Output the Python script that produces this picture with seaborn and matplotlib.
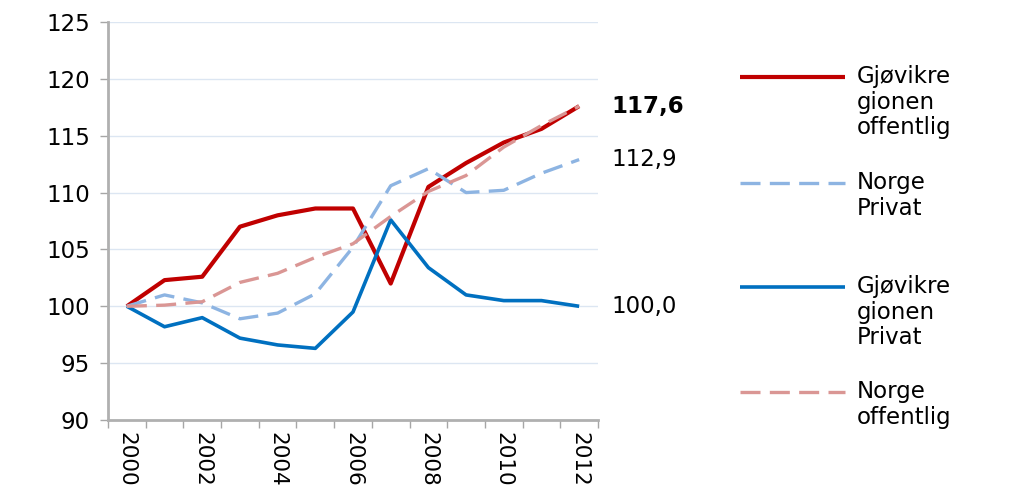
import matplotlib.pyplot as plt
from matplotlib.lines import Line2D
import numpy as np
import pandas as pd
import seaborn as sns

# Index values (2000 = 100)
years = list(range(2000, 2013))
gjovik_offentlig = [100.0, 102.3, 102.6, 107.0, 108.0, 108.6, 108.6, 102.0, 110.5, 112.6, 114.4, 115.6, 117.6]
norge_privat = [100.0, 101.0, 100.3, 98.9, 99.4, 101.1, 105.2, 110.6, 112.1, 110.0, 110.2, 111.7, 112.9]
gjovik_privat = [100.0, 98.2, 99.0, 97.2, 96.6, 96.3, 99.5, 107.6, 103.4, 101.0, 100.5, 100.5, 100.0]
norge_offentlig = [100.0, 100.1, 100.4, 102.1, 102.9, 104.3, 105.5, 107.9, 110.1, 111.5, 114.0, 115.9, 117.6]

end_labels = ['117,6', '112,9', '100,0']
end_values = [117.6, 112.9, 100.0]
end_weights = ['bold', 'normal', 'normal']

series = [
    ('Gjøvikre\ngionen\noffentlig', gjovik_offentlig, '#C00000', 3.0, None),
    ('Norge\nPrivat', norge_privat, '#8DB4E2', 2.4, (6, 2.8)),
    ('Gjøvikre\ngionen\nPrivat', gjovik_privat, '#0070C0', 2.6, None),
    ('Norge\noffentlig', norge_offentlig, '#DA9694', 2.4, (6, 2.8)),
]

sns.set_theme(style='white')
plt.rcParams['font.family'] = ['DejaVu Sans']
plt.rcParams['text.color'] = 'black'
plt.rcParams['xtick.color'] = 'black'
plt.rcParams['ytick.color'] = 'black'

fig = plt.figure(figsize=(10.12, 4.9), dpi=100)
ax = fig.add_axes([108 / 1012, 1 - 420 / 490, 490 / 1012, 398 / 490])

x = np.arange(len(years))
for name, vals, color, lw, dash in series:
    df = pd.DataFrame({'x': x, 'value': vals})
    sns.lineplot(data=df, x='x', y='value', ax=ax, color=color, linewidth=lw)
    if dash is not None:
        ax.lines[-1].set_dashes(dash)
    ax.lines[-1].set_solid_capstyle('butt')

# axes formatting
ax.set_xlim(-0.5, len(years) - 0.5)
ax.set_ylim(90, 125)
ax.set_yticks(range(90, 126, 5))
ax.set_xticks(x[::2])
ax.set_xticklabels([str(y) for y in years[::2]], rotation=-90, fontsize=15.5)
ax.set_xticks(np.arange(-0.5, len(years), 1), minor=True)
ax.tick_params(axis='x', which='major', length=0, pad=9)
ax.tick_params(axis='x', which='minor', length=6, width=1, color='#a6a6a6', bottom=True)
ax.tick_params(axis='y', length=6, width=1, color='#a6a6a6', labelcolor='black',
               labelsize=16.5, pad=7, left=True)
ax.set_xlabel('')
ax.set_ylabel('')
ax.grid(axis='y', color='#dce6f2', linewidth=1)
ax.set_axisbelow(True)
for side in ['top', 'right']:
    ax.spines[side].set_visible(False)
for side in ['left', 'bottom']:
    ax.spines[side].set_color('#b0b0b0')
    ax.spines[side].set_linewidth(2)

# end value labels
for lab, val, w in zip(end_labels, end_values, end_weights):
    ax.annotate(lab, xy=(x[-1], val), xytext=(23, 0), textcoords='offset points',
                va='center', ha='left', fontsize=16.5, fontweight=w, color='black',
                annotation_clip=False)

# legend drawn at the right side
legend_y = [77, 183, 287, 392]
for (name, vals, color, lw, dash), ly in zip(series, legend_y):
    yf = 1 - ly / 490
    ln = Line2D([740 / 1012, 845 / 1012], [yf, yf], transform=fig.transFigure,
                color=color, linewidth=lw, solid_capstyle='butt')
    if dash is not None:
        ln.set_dashes(dash)
    fig.add_artist(ln)
    fig.text(857 / 1012, yf + 12 / 490, name, ha='left', va='top', fontsize=16.5,
             linespacing=1.15, color='black')

fig.savefig('out.png', dpi=100)
